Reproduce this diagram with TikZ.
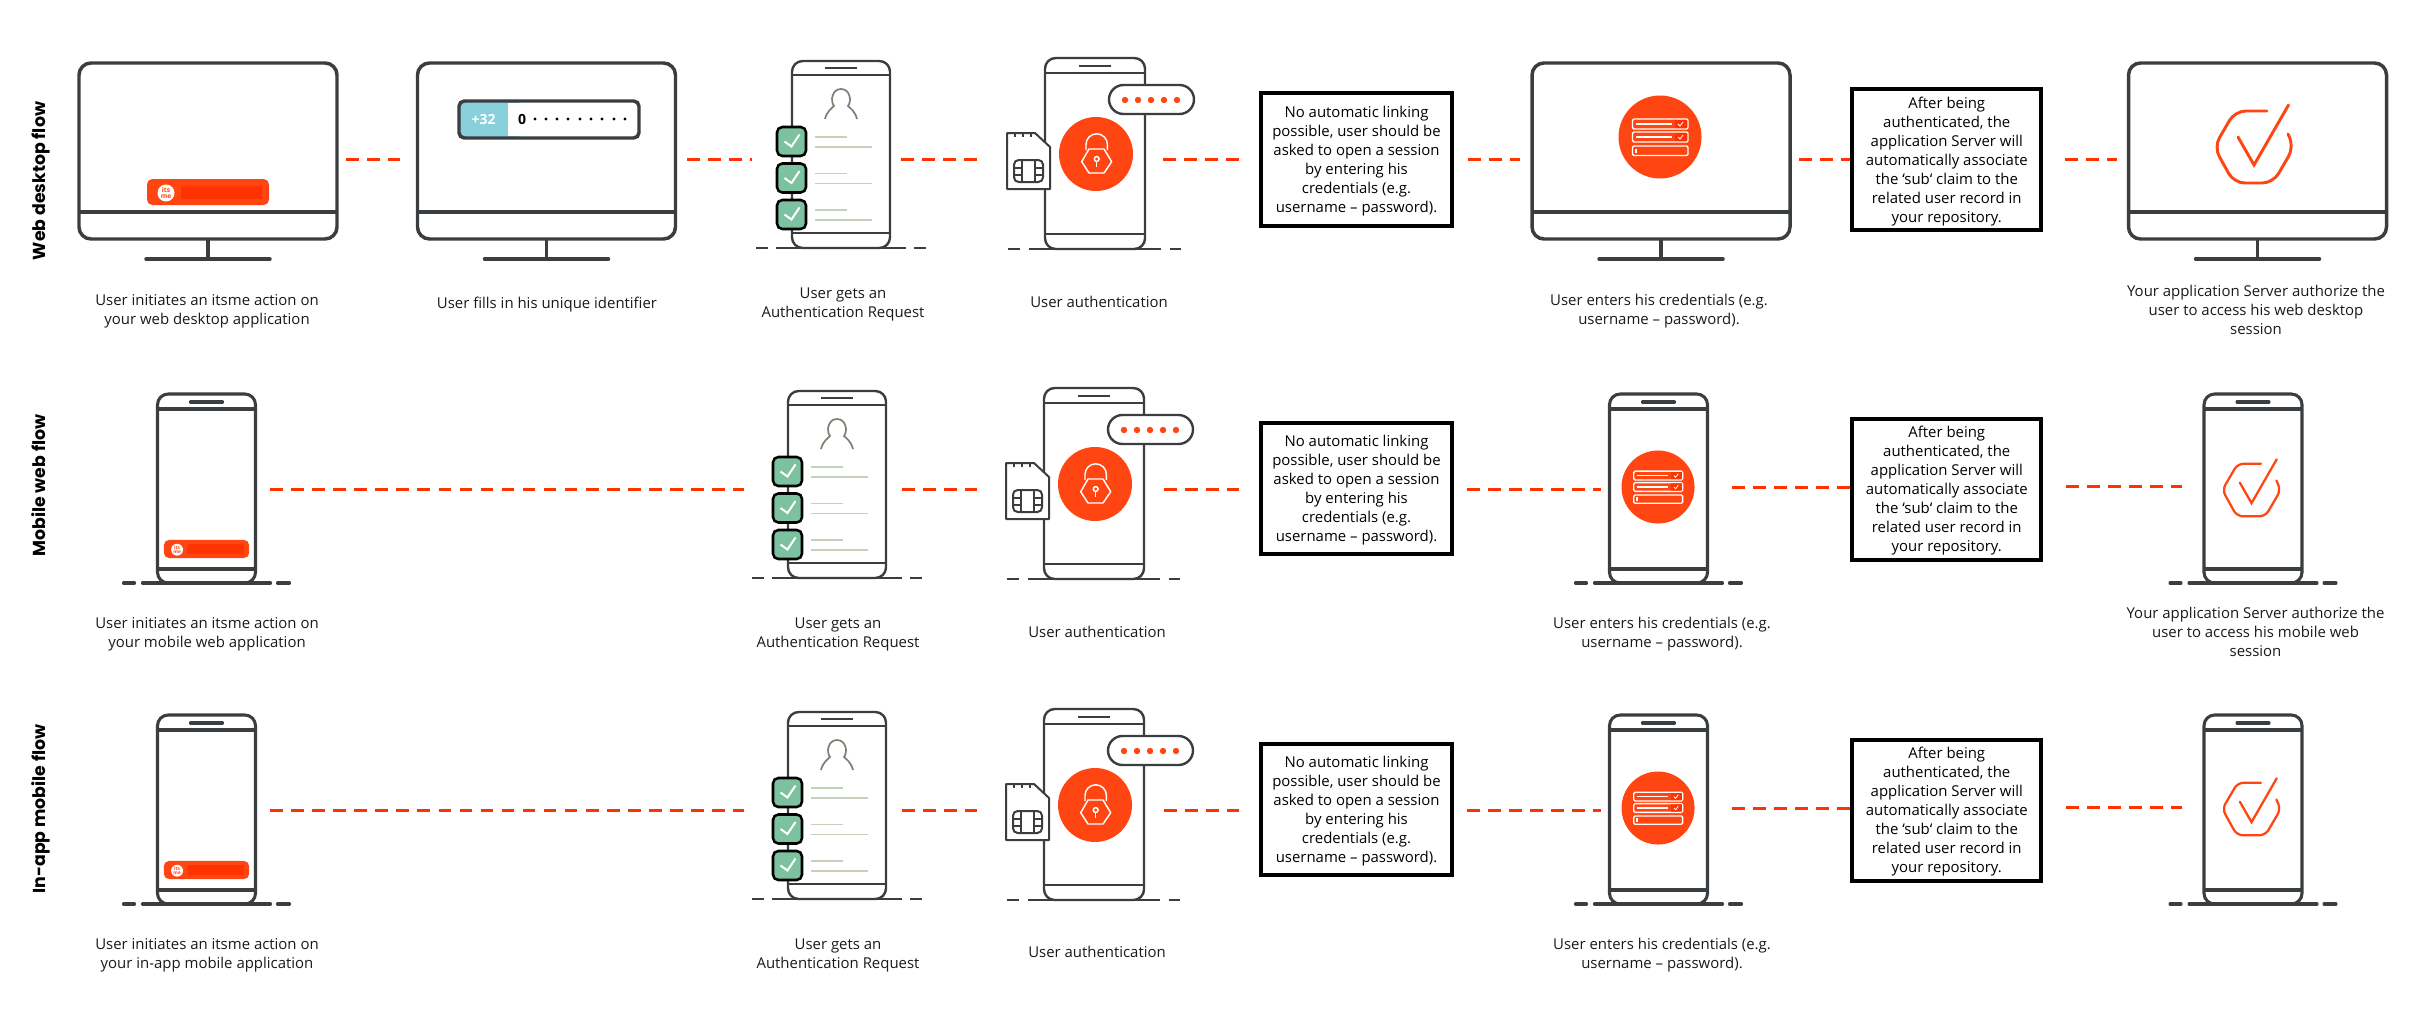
\documentclass[tikz,border=0pt]{standalone}
\usepackage{fontspec}
\setmainfont{Open Sans}
\newfontfamily\flowfont{Poppins}
\definecolor{devline}{RGB}{58,62,64}
\definecolor{itsorange}{RGB}{255,70,18}
\definecolor{itsred}{RGB}{255,51,0}
\definecolor{prefixblue}{RGB}{138,207,220}
\definecolor{checkgreen}{RGB}{124,193,160}
\definecolor{rowgrey}{RGB}{197,208,191}
\definecolor{persongrey}{RGB}{122,130,117}
\tikzset{
	every pic/.style={yscale=-1},
	flowdash/.style={itsred, line width=2.25pt, dash pattern=on 9.4pt off 6.4pt},
	steptext/.style={font=\fontsize{11.2pt}{14.3pt}\selectfont, align=center, inner sep=0pt, text depth=0pt, text=black!90},
	noteboxa/.style={draw=black, line width=3pt, fill=white, minimum width=143.25pt, inner sep=0pt, text depth=0pt, font=\fontsize{11.2pt}{14.3pt}\selectfont, align=center},
	noteboxb/.style={noteboxa, minimum width=142pt, minimum height=105.75pt},
	flowtitle/.style={rotate=90, anchor=base, inner sep=0pt, font=\flowfont\bfseries\fontsize{13pt}{15pt}\selectfont},
	pics/monitor/.style={code={
		\draw[devline, line width=2.6pt, rounded corners=9pt, fill=white] (-129,0) -- (129,0) -- (129,176) -- (-129,176) -- cycle;
		\draw[devline, line width=2.6pt] (-129,149) -- (129,149);
		\draw[devline, line width=2.6pt] (0,176) -- (0,196);
		\draw[devline, line width=2.6pt, line cap=round] (-62,196) -- (62,196);
	}},
	pics/phone/.style={code={
		\draw[devline, line width=2.3pt, rounded corners=8pt, fill=white] (-49,0) -- (49,0) -- (49,189) -- (-49,189) -- cycle;
		\draw[devline, line width=2.3pt] (-49,15) -- (49,15) (-49,175) -- (49,175);
		\draw[devline, line width=2.3pt, line cap=round] (-16,8) -- (16,8);
		\draw[devline, line width=2.3pt, line cap=round] (-83,189) -- (-72,189) (-64,189) -- (64,189) (71,189) -- (83,189);
	}},
	pics/reqphone/.style={code={
		\draw[devline, line width=1.8pt, rounded corners=8pt, fill=white] (-49,0) -- (49,0) -- (49,187) -- (-49,187) -- cycle;
		\draw[devline, line width=1.8pt] (-49,14) -- (49,14) (-49,172) -- (49,172);
		\draw[devline, line width=1.8pt] (-16,7) -- (16,7);
		\draw[devline, line width=1.5pt] (-85,187) -- (-73,187) (-65,187) -- (65,187) (73,187) -- (85,187);
		\draw[persongrey, line width=1.3pt] (-16,58) .. controls (-14,50) and (-9,47) .. (-7,45) .. controls (-11,40) and (-9,28) .. (0,28) .. controls (9,28) and (11,40) .. (7,45) .. controls (9,47) and (14,50) .. (16,58);
		\foreach \rowy in {80.5,117,153.5}{
			\draw[black, line width=1.9pt, rounded corners=4pt, fill=checkgreen] (-64,\rowy-14.5) rectangle (-35,\rowy+14.5);
			\draw[white, line width=1.5pt] (-56.5,\rowy) -- (-49.5,\rowy+5) -- (-41.5,\rowy-7);
			\draw[rowgrey, line width=1.3pt] (-26,\rowy-4.5) -- (6,\rowy-4.5) (-26,\rowy+5.5) -- (31,\rowy+5.5);
		}
	}},
	pics/authphone/.style={code={
		\draw[devline, line width=1.8pt, rounded corners=8pt, fill=white] (-50,0) -- (50,0) -- (50,191) -- (-50,191) -- cycle;
		\draw[devline, line width=1.8pt] (-50,15) -- (50,15) (-50,176) -- (50,176);
		\draw[devline, line width=1.8pt] (-16,8) -- (16,8);
		\draw[devline, line width=1.5pt] (-87,191) -- (-75,191) (-66,191) -- (66,191) (75,191) -- (86,191);
		%SIM card
		\draw[devline, line width=1.5pt, fill=white, line join=round] (-88,75) -- (-60,75) -- (-45,89) -- (-45,131) -- (-88,131) -- cycle;
		\draw[devline, line width=1.3pt] (-80,75) -- (-80,79) (-72,75) -- (-72,79) (-64,75) -- (-64,79);
		\draw[devline, line width=1.5pt, rounded corners=3.5pt] (-81,102) rectangle (-52,124);
		\draw[devline, line width=1.3pt] (-73,102) -- (-73,124) (-60,102) -- (-60,124) (-81,110) -- (-73,110) (-81,117) -- (-73,117) (-60,110) -- (-52,110) (-60,117) -- (-52,117);
		%PIN field
		\draw[devline, line width=1.8pt, fill=white] (28.5,27) -- (84.5,27) arc (-90:90:14.5) -- (28.5,56) arc (90:270:14.5) -- cycle;
		\foreach \dotx in {30,43,56,69,82}{
			\fill[itsorange] (\dotx,42) circle (3.2);
		}
		%lock
		\fill[itsorange] (1,96) circle (37);
		\draw[white, line width=1.1pt, line join=round] (-13.3,103.7) -- (-6,91) -- (9,91) -- (16.7,103.7) -- (9,115) -- (-6,115) -- cycle;
		\draw[white, line width=1.1pt] (-9,92) -- (-9,86.5) arc (180:360:10.7) -- (12.4,92);
		\draw[white, line width=1.1pt] (1.7,101) circle (2.4);
		\draw[white, line width=1.1pt] (1.7,103.5) -- (1.7,109);
	}},
	pics/credform/.style={code={
		\fill[itsorange] (0,0) circle (41.5);
		\foreach \rowy/\rowh in {-18/10,-5/10,9/9.5}{
			\draw[white, line width=1pt, rounded corners=1pt] (-27.5,\rowy) rectangle (28,\rowy+\rowh);
		}
		\fill[itsred] (15,-17) rectangle (27,-9) (15,-4) rectangle (27,4);
		\draw[white, line width=1pt] (-24,-13) -- (11.5,-13) (-24,0) -- (11.5,0) (-24,11.5) -- (-24,16);
		\draw[white, line width=.6pt] (18,-13) -- (20,-11) -- (23,-15) (18,0) -- (20,2) -- (23,-2);
	}},
	pics/hexcheck/.style args={#1/#2}{code={
		\draw[itsorange, line width=#1, rounded corners=#2, line cap=round] (13,-36) -- (-19,-36) -- (-40,0) -- (-20,36) -- (19,36) -- (40,0) -- (34,-13);
		\draw[itsorange, line width=#1, line cap=round] (-16,-10) -- (0,18) -- (34.5,-42);
	}},
	pics/itsbutton/.style={code={
		\fill[itsorange, rounded corners=4pt] (-61,-13) rectangle (61,13);
		\fill[itsred] (-27,-6.5) rectangle (54,6.5);
		\fill[white] (-42,1) circle (8.5);
		\node[inner sep=0pt, align=center, text=itsorange, font=\bfseries\fontsize{#1}{#1}\selectfont] (-logo) at (-42,1) {its\\me};
	}},
}
\begin{document}
\begin{tikzpicture}[x=0.75pt,y=0.75pt,yscale=-1,xscale=1]
	\useasboundingbox (0,0) rectangle (2419,1024);

	%Row titles
	\node[flowtitle] (titleweb) at (45,181) {Web desktop flow};
	\node[flowtitle] (titlemobile) at (45,485.5) {Mobile web flow};
	\node[flowtitle] (titleinapp) at (45,809) {In-app mobile flow};

	%Web desktop row
	\pic (moniniteb) at (208,63) {monitor};
	\pic (btnweb) at (208,192) {itsbutton=5};
	\pic (monfill) at (546.5,63) {monitor};
	\pic (reqweb) at (841,61) {reqphone};
	\pic (authweb) at (1095,58) {authphone};
	\pic (moncred) at (1661,63) {monitor};
	\pic (credweb) at (1660,137) {credform};
	\pic (monok) at (2257.5,63) {monitor};
	\pic (okweb) at (2254,147) {hexcheck=2.2pt/8pt};
	%prefix field
	\fill[prefixblue, rounded corners=3pt] (459,101) rectangle (520,138);
	\fill[white, rounded corners=3pt] (508,103) rectangle (637,136);
	\fill[white] (508,103) rectangle (520,136);
	\draw[devline, line width=2.6pt, rounded corners=4pt] (459,101) rectangle (639,138);
	\node[inner sep=0pt, text=white, font=\bfseries\fontsize{10.5pt}{11pt}\selectfont] (prefix) at (483.5,119.5) {+32};
	\node[inner sep=0pt, font=\bfseries\fontsize{10.5pt}{11pt}\selectfont] (firstdigit) at (522,119.5) {0};
	\foreach \dotx in {535,546,557,568,580,591,602,614,625}{
		\fill[black] (\dotx,119) circle (1.6);
	}
	\node[noteboxa, minimum height=99.75pt] (nolinkweb) at (1356.5,159.5) {No automatic linking\\possible, user should be\\asked to open a session\\by entering his\\credentials (e.g.\\username – password).};
	\node[noteboxb] (subweb) at (1946.75,159.5) {After being\\authenticated, the\\application Server will\\automatically associate\\the \char96 sub\char96{} claim to the\\related user record in\\your repository.};

	% Text Node
	\node[steptext] (labiniteb) at (207,309.5) {User initiates an itsme action on\\your web desktop application};
	\node[steptext] (labfill) at (547,303) {User fills in his unique identifier};
	\node[steptext] (labreqweb) at (843,302.5) {User gets an\\Authentication Request};
	\node[steptext] (labauthweb) at (1099,301.5) {User authentication};
	\node[steptext] (labcredweb) at (1659,309.5) {User enters his credentials (e.g.\\username – password).};
	\node[steptext] (labokweb) at (2256,310) {Your application Server authorize the\\user to access his web desktop\\session};

	\coordinate (wa1) at (346,159);  \coordinate (wa2) at (400,159);
	\coordinate (wb1) at (687,159);  \coordinate (wb2) at (752,159);
	\coordinate (wc1) at (901,159);  \coordinate (wc2) at (977,159);
	\coordinate (wd1) at (1163,159); \coordinate (wd2) at (1239,159);
	\coordinate (we1) at (1468,159); \coordinate (we2) at (1520,159);
	\coordinate (wf1) at (1799,159);
	\coordinate (wg1) at (2065,159); \coordinate (wg2) at (2117,159);
	\draw[flowdash] (wa1) -- (wa2);
	\draw[flowdash] (wb1) -- (wb2);
	\draw[flowdash] (wc1) -- (wc2);
	\draw[flowdash] (wd1) -- (wd2);
	\draw[flowdash] (we1) -- (we2);
	\draw[flowdash] (wf1) -- (subweb.west |- wf1);
	\draw[flowdash] (wg1) -- (wg2);

	%Mobile web row
	\pic (phinitmob) at (206.5,394) {phone};
	\pic[scale=.7] (btnmob) at (206.5,549) {itsbutton=3.5};
	\pic (reqmob) at (837,391) {reqphone};
	\pic (authmob) at (1094,388) {authphone};
	\pic (phcredmob) at (1658.5,394) {phone};
	\pic[scale=.88] (credmob) at (1658,487) {credform};
	\pic (phokmob) at (2253,394) {phone};
	\pic[scale=.73] (okmob) at (2251.5,490) {hexcheck=1.7pt/4.5pt};
	\node[noteboxa, minimum height=98.25pt] (nolinkmob) at (1356.5,488.5) {No automatic linking\\possible, user should be\\asked to open a session\\by entering his\\credentials (e.g.\\username – password).};
	\node[noteboxb] (submob) at (1946.75,489) {After being\\authenticated, the\\application Server will\\automatically associate\\the \char96 sub\char96{} claim to the\\related user record in\\your repository.};

	% Text Node
	\node[steptext] (labinitmob) at (207,632.5) {User initiates an itsme action on\\your mobile web application};
	\node[steptext] (labreqmob) at (838,632.5) {User gets an\\Authentication Request};
	\node[steptext] (labauthmob) at (1097,631.5) {User authentication};
	\node[steptext] (labcredmob) at (1662,632.5) {User enters his credentials (e.g.\\username – password).};
	\node[steptext] (labokmob) at (2255.5,632) {Your application Server authorize the\\user to access his mobile web\\session};

	\coordinate (ma1) at (270,489);  \coordinate (ma2) at (744,489);
	\coordinate (mb1) at (902,489);  \coordinate (mb2) at (977,489);
	\coordinate (mc1) at (1164,489); \coordinate (mc2) at (1239,489);
	\coordinate (md1) at (1467,489); \coordinate (md2) at (1601,489);
	\coordinate (me1) at (1732,487);
	\coordinate (mf1) at (2066,486); \coordinate (mf2) at (2182,486);
	\draw[flowdash] (ma1) -- (ma2);
	\draw[flowdash] (mb1) -- (mb2);
	\draw[flowdash] (mc1) -- (mc2);
	\draw[flowdash] (md1) -- (md2);
	\draw[flowdash] (me1) -- (submob.west |- me1);
	\draw[flowdash] (mf1) -- (mf2);

	%In-app mobile row
	\pic (phinitapp) at (206.5,715) {phone};
	\pic[scale=.7] (btnapp) at (206.5,870) {itsbutton=3.5};
	\pic (reqapp) at (837,712) {reqphone};
	\pic (authapp) at (1094,709) {authphone};
	\pic (phcredapp) at (1658.5,715) {phone};
	\pic[scale=.88] (credapp) at (1658,808) {credform};
	\pic (phokapp) at (2253,715) {phone};
	\pic[scale=.73] (okapp) at (2251.5,809) {hexcheck=1.7pt/4.5pt};
	\node[noteboxa, minimum height=98.25pt] (nolinkapp) at (1356.5,809) {No automatic linking\\possible, user should be\\asked to open a session\\by entering his\\credentials (e.g.\\username – password).};
	\node[noteboxb] (subapp) at (1946.75,810) {After being\\authenticated, the\\application Server will\\automatically associate\\the \char96 sub\char96{} claim to the\\related user record in\\your repository.};

	% Text Node
	\node[steptext] (labinitapp) at (207,953.5) {User initiates an itsme action on\\your in-app mobile application};
	\node[steptext] (labreqapp) at (838,953.5) {User gets an\\Authentication Request};
	\node[steptext] (labauthapp) at (1097,951.5) {User authentication};
	\node[steptext] (labcredapp) at (1662,953.5) {User enters his credentials (e.g.\\username – password).};

	\coordinate (aa1) at (270,810);  \coordinate (aa2) at (744,810);
	\coordinate (ab1) at (902,810);  \coordinate (ab2) at (977,810);
	\coordinate (ac1) at (1164,810); \coordinate (ac2) at (1239,810);
	\coordinate (ad1) at (1467,810); \coordinate (ad2) at (1601,810);
	\coordinate (ae1) at (1732,808);
	\coordinate (af1) at (2066,807); \coordinate (af2) at (2182,807);
	\draw[flowdash] (aa1) -- (aa2);
	\draw[flowdash] (ab1) -- (ab2);
	\draw[flowdash] (ac1) -- (ac2);
	\draw[flowdash] (ad1) -- (ad2);
	\draw[flowdash] (ae1) -- (subapp.west |- ae1);
	\draw[flowdash] (af1) -- (af2);
\end{tikzpicture}
\end{document}
